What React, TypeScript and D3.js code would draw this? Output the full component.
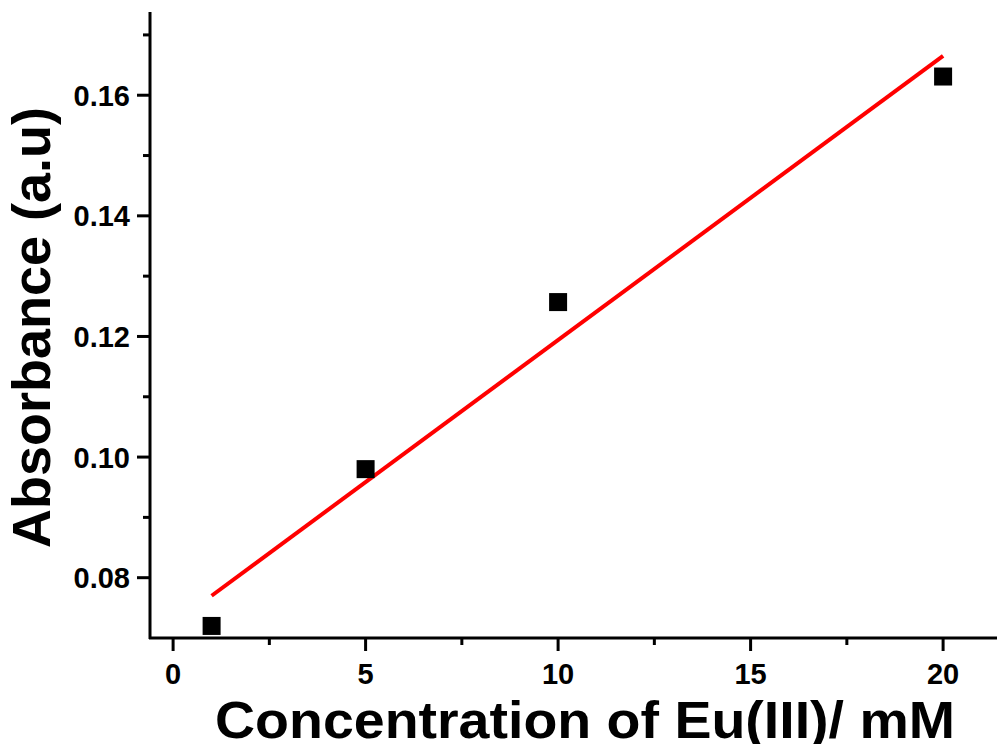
import React from 'react';
import * as d3 from 'd3';

// measured data points
const concentrations = [1, 5, 10, 20];
const absorbance = [0.072, 0.098, 0.1257, 0.1631];

const xTicks = [0, 5, 10, 15, 20];
const xMinorTicks = [2.5, 7.5, 12.5, 17.5];
const yTicks = [0.08, 0.10, 0.12, 0.14, 0.16];
const yMinorTicks = [0.09, 0.11, 0.13, 0.15, 0.17];

const font = '"Liberation Sans", Arial, sans-serif';

export default function App() {
  const width = 997;
  const height = 744;

  const x = d3.scaleLinear().domain([-0.6, 21.4]).range([150, 997]);
  const y = d3.scaleLinear().domain([0.07, 0.1738]).range([638, 12]);

  // least squares fit
  const mx = d3.mean(concentrations) as number;
  const my = d3.mean(absorbance) as number;
  const sxy = d3.sum(concentrations, (c, i) => (c - mx) * (absorbance[i] - my));
  const sxx = d3.sum(concentrations, (c) => (c - mx) * (c - mx));
  const slope = sxy / sxx;
  const intercept = my - slope * mx;
  const fitX = [concentrations[0], concentrations[concentrations.length - 1]];

  const line = d3.line<number>()
    .x((d) => x(d))
    .y((d) => y(intercept + slope * d));

  const x0 = x.range()[0];
  const y0 = y.range()[0];
  const sq = 18;

  return (
    <svg width={width} height={height}
         style={{ position: 'absolute', left: 0, top: 0, background: '#fff' }}>
      {/* axes */}
      <line x1={x0} x2={x0} y1={y.range()[1]} y2={y0 + 1} stroke="#000" strokeWidth={3} />
      <line x1={x0 - 1} x2={x.range()[1]} y1={y0} y2={y0} stroke="#000" strokeWidth={3} />

      {yTicks.map((t) => (
        <g key={'y' + t}>
          <line x1={x0 - 13} x2={x0} y1={y(t)} y2={y(t)} stroke="#000" strokeWidth={3} />
          <text x={130} y={y(t)} dy="0.36em" textAnchor="end"
                fontFamily={font} fontWeight="bold" fontSize={29}>{t.toFixed(2)}</text>
        </g>
      ))}
      {yMinorTicks.map((t) => (
        <line key={'ym' + t} x1={x0 - 7} x2={x0} y1={y(t)} y2={y(t)} stroke="#000" strokeWidth={3} />
      ))}

      {xTicks.map((t) => (
        <g key={'x' + t}>
          <line x1={x(t)} x2={x(t)} y1={y0} y2={y0 + 13} stroke="#000" strokeWidth={3} />
          <text x={x(t)} y={684} textAnchor="middle"
                fontFamily={font} fontWeight="bold" fontSize={29}>{t}</text>
        </g>
      ))}
      {xMinorTicks.map((t) => (
        <line key={'xm' + t} x1={x(t)} x2={x(t)} y1={y0} y2={y0 + 7} stroke="#000" strokeWidth={3} />
      ))}

      {/* fit line */}
      <path d={line(fitX) || ''} fill="none" stroke="#ff0000" strokeWidth={4} />

      {/* points */}
      {concentrations.map((c, i) => (
        <rect key={i} x={x(c) - sq / 2} y={y(absorbance[i]) - sq / 2}
              width={sq} height={sq} fill="#000" />
      ))}

      {/* titles */}
      <text x={215} y={738} textLength={740} lengthAdjust="spacingAndGlyphs"
            fontFamily={font} fontWeight="bold" fontSize={52}>Concentration of Eu(III)/ mM</text>
      <text transform="translate(50,548) rotate(-90)" textLength={441} lengthAdjust="spacingAndGlyphs"
            fontFamily={font} fontWeight="bold" fontSize={53}>Absorbance (a.u)</text>
    </svg>
  );
}
